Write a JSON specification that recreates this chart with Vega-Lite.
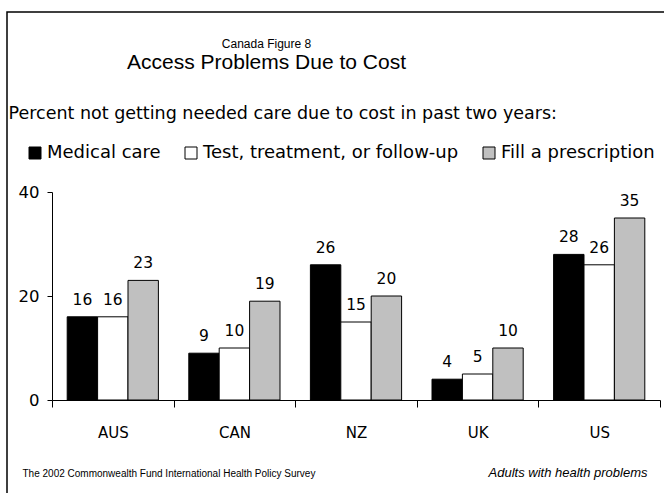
{
  "$schema": "https://vega.github.io/schema/vega-lite/v6.json",
  "autosize": "none",
  "width": 657,
  "height": 481,
  "padding": {"left": 7, "top": 12, "right": 0, "bottom": 0},
  "background": "white",
  "config": {
    "view": {"stroke": "black", "strokeWidth": 1.5, "strokeDash": [657, 1138, 481]},
    "font": "DejaVu Sans"
  },
  "title": {
    "text": "Canada Figure 8",
    "subtitle": "Access Problems Due to Cost",
    "anchor": "middle",
    "frame": "group",
    "orient": "top",
    "offset": -62,
    "dx": -69,
    "font": "Liberation Sans",
    "fontSize": 12,
    "fontWeight": "normal",
    "color": "#000000",
    "subtitleFont": "Liberation Sans",
    "subtitleFontSize": 21,
    "subtitleColor": "#000000",
    "subtitlePadding": 1
  },
  "data": {
    "values": [
      {"country": "AUS", "measure": "Medical care", "value": 16},
      {"country": "AUS", "measure": "Test, treatment, or follow-up", "value": 16},
      {"country": "AUS", "measure": "Fill a prescription", "value": 23},
      {"country": "CAN", "measure": "Medical care", "value": 9},
      {"country": "CAN", "measure": "Test, treatment, or follow-up", "value": 10},
      {"country": "CAN", "measure": "Fill a prescription", "value": 19},
      {"country": "NZ", "measure": "Medical care", "value": 26},
      {"country": "NZ", "measure": "Test, treatment, or follow-up", "value": 15},
      {"country": "NZ", "measure": "Fill a prescription", "value": 20},
      {"country": "UK", "measure": "Medical care", "value": 4},
      {"country": "UK", "measure": "Test, treatment, or follow-up", "value": 5},
      {"country": "UK", "measure": "Fill a prescription", "value": 10},
      {"country": "US", "measure": "Medical care", "value": 28},
      {"country": "US", "measure": "Test, treatment, or follow-up", "value": 26},
      {"country": "US", "measure": "Fill a prescription", "value": 35}
    ]
  },
  "encoding": {
    "x": {
      "field": "country",
      "type": "nominal",
      "sort": ["AUS", "CAN", "NZ", "UK", "US"],
      "scale": {"range": [45, 653], "paddingInner": 0, "paddingOuter": 0},
      "axis": {
        "title": "The 2002 Commonwealth Fund International Health Policy Survey",
        "titleFont": "Liberation Sans",
        "titleFontSize": 10,
        "titleFontWeight": "normal",
        "titleColor": "#000000",
        "titleAnchor": "start",
        "titleAlign": "left",
        "titleBaseline": "alphabetic",
        "titleX": 15,
        "titleY": 76,
        "offset": -93,
        "labelAngle": 0,
        "labelFontSize": 15,
        "labelColor": "#000000",
        "labelPadding": 18,
        "tickBand": "extent",
        "tickSize": 7,
        "tickColor": "#000000",
        "domainColor": "#000000",
        "grid": false
      }
    },
    "xOffset": {
      "field": "measure",
      "type": "nominal",
      "sort": ["Medical care", "Test, treatment, or follow-up", "Fill a prescription"],
      "scale": {"paddingInner": 0, "paddingOuter": 0.5}
    }
  },
  "layer": [
    {
      "mark": {"type": "bar", "stroke": "#000000", "strokeWidth": 1},
      "encoding": {
        "y": {
          "field": "value",
          "type": "quantitative",
          "scale": {"domain": [0, 40], "range": [388, 180], "nice": false, "zero": true},
          "axis": {
            "values": [0, 20, 40],
            "title": "Percent not getting needed care due to cost in past two years:",
            "titleFont": "DejaVu Sans",
            "titleFontSize": 17.5,
            "titleFontWeight": "normal",
            "titleColor": "#000000",
            "titleAngle": 0,
            "titleAlign": "left",
            "titleBaseline": "alphabetic",
            "titleX": -44,
            "titleY": 106,
            "titleLimit": 800,
            "offset": -45,
            "labelFontSize": 16.5,
            "labelColor": "#000000",
            "labelPadding": 8,
            "tickSize": 5,
            "tickColor": "#000000",
            "domainColor": "#000000",
            "grid": false
          }
        },
        "color": {
          "field": "measure",
          "type": "nominal",
          "sort": ["Medical care", "Test, treatment, or follow-up", "Fill a prescription"],
          "scale": {
            "domain": ["Medical care", "Test, treatment, or follow-up", "Fill a prescription"],
            "range": ["#000000", "#ffffff", "#c0c0c0"]
          },
          "legend": {
            "title": null,
            "orient": "none",
            "legendX": 19,
            "legendY": 132,
            "direction": "horizontal",
            "columns": 3,
            "symbolType": "square",
            "symbolSize": 144,
            "symbolStrokeColor": "#000000",
            "symbolStrokeWidth": 1,
            "symbolOpacity": 1,
            "labelFont": "DejaVu Sans",
            "labelFontSize": 18,
            "labelColor": "#000000",
            "labelLimit": 400,
            "labelOffset": 3,
            "columnPadding": 21
          }
        }
      }
    },
    {
      "mark": {"type": "text", "baseline": "alphabetic", "dy": -12, "fontSize": 15.5, "color": "#000000"},
      "encoding": {
        "y": {
          "field": "value",
          "type": "quantitative",
          "scale": {"domain": [0, 40], "range": [388, 180], "nice": false, "zero": true},
          "axis": {
            "orient": "right",
            "title": "Adults with health problems",
            "titleFont": "Liberation Sans",
            "titleFontSize": 13,
            "titleFontWeight": "normal",
            "titleFontStyle": "italic",
            "titleColor": "#000000",
            "titleAngle": 0,
            "titleAlign": "right",
            "titleBaseline": "alphabetic",
            "titleX": -17,
            "titleY": 464,
            "domain": false,
            "ticks": false,
            "labels": false,
            "grid": false
          }
        },
        "text": {"field": "value", "type": "quantitative"}
      }
    }
  ],
  "resolve": {"axis": {"y": "independent"}}
}
